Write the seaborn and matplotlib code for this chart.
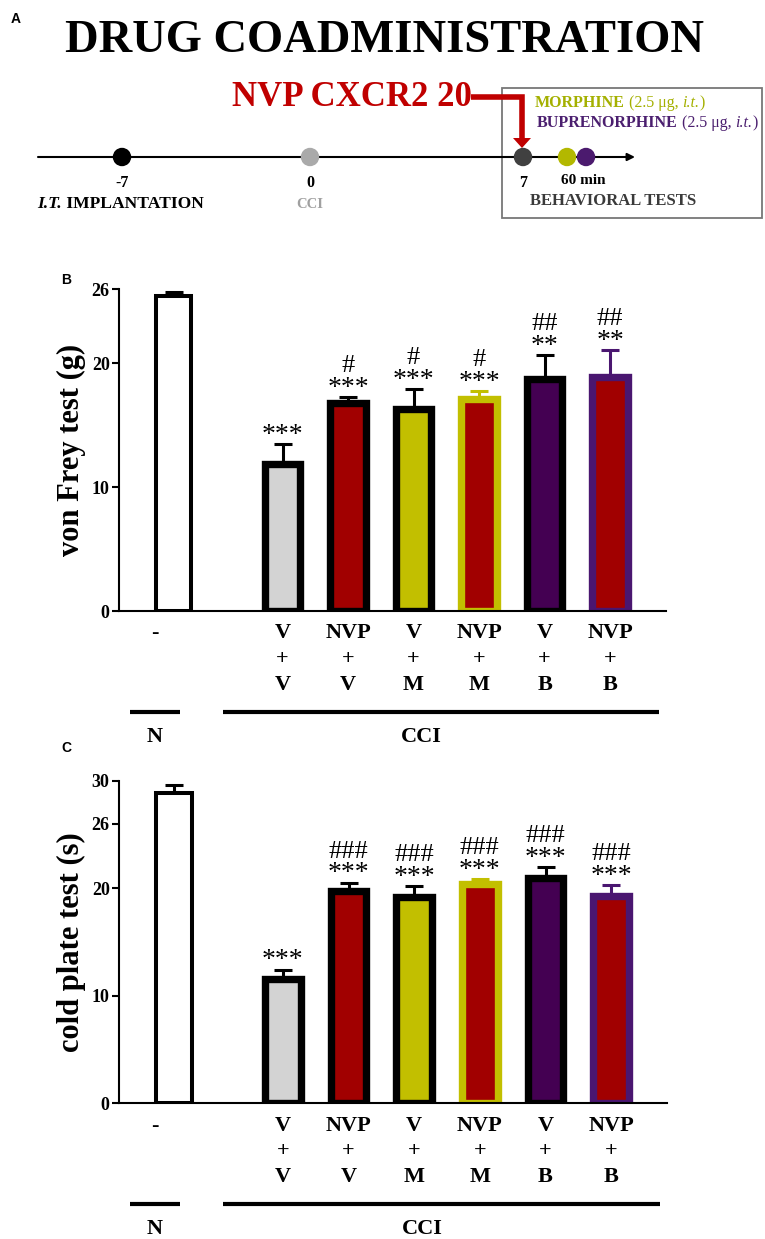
import numpy as np
import pandas as pd
import matplotlib.pyplot as plt
from matplotlib.patches import Circle, Rectangle
import seaborn as sns

# ---- data ----
groups = ["N", "V+V", "NVP+V", "V+M", "NVP+M", "V+B", "NVP+B"]
tick_labels = ["-", "V\n+\nV", "NVP\n+\nV", "V\n+\nM", "NVP\n+\nM", "V\n+\nB", "NVP\n+\nB"]

vonfrey_mean = [25.4, 11.9, 16.8, 16.3, 17.1, 18.7, 18.9]
vonfrey_sem = [0.35, 1.6, 0.5, 1.6, 0.65, 1.95, 2.2]
vonfrey_stars = ["", "***", "***", "***", "***", "**", "**"]
vonfrey_hash = ["", "", "#", "#", "#", "##", "##"]

cold_mean = [28.9, 11.6, 19.8, 19.2, 20.4, 21.0, 19.3]
cold_sem = [0.7, 0.85, 0.75, 1.05, 0.45, 1.0, 1.05]
cold_stars = ["", "***", "***", "***", "***", "***", "***"]
cold_hash = ["", "", "###", "###", "###", "###", "###"]

RED = "#a10000"
OLIVE = "#c2bf00"
PURPLE = "#440052"
PURPLE_EDGE = "#4a1670"
fill_colors = ["white", "#d3d3d3", RED, OLIVE, RED, PURPLE, RED]
edge_colors = ["black", "black", "black", "black", OLIVE, "black", PURPLE_EDGE]

timeline_days = ["-7", "0", "7"]

sns.set_theme(style="ticks")
plt.rcParams["font.family"] = ["Liberation Serif", "DejaVu Serif"]
for key in ["text.color", "axes.labelcolor", "xtick.color", "ytick.color", "axes.edgecolor"]:
    plt.rcParams[key] = "black"

W, H = 765, 1239
fig = plt.figure(figsize=(W / 100, H / 100), dpi=100)

# bar positions: N alone, then a gap before the CCI groups
xpos = np.r_[0.0, 1.66 + np.arange(len(groups) - 1)]
n_label_x = -0.29


def draw_panel(ax, mean, sem, stars, hashes, ylim, yticks, ylabel):
    df = pd.DataFrame({"group": groups, "pos": xpos, "value": mean})
    sns.barplot(data=df, x="pos", y="value", hue="group", native_scale=True,
                palette=dict(zip(groups, fill_colors)), saturation=1,
                dodge=False, width=0.54, errorbar=None, legend=False, ax=ax)
    bars = sorted([p for p in ax.patches if p.get_height() > 0], key=lambda p: p.get_x())
    for i, p in enumerate(bars):
        p.set_edgecolor(edge_colors[i])
        p.set_linewidth(2.9 if i == 0 else 5.3)
        p.set_zorder(2)

    for i in range(len(groups)):
        ax.errorbar(xpos[i], mean[i], yerr=[[0], [sem[i]]], fmt="none",
                    ecolor=edge_colors[i], elinewidth=2.2, capsize=6.5,
                    capthick=2.2, zorder=1)
        top = mean[i] + sem[i]
        if stars[i]:
            ax.annotate(stars[i], (xpos[i], top), xytext=(0, 1.5),
                        textcoords="offset points", ha="center", va="baseline",
                        fontsize=20)
        if hashes[i]:
            ax.annotate(hashes[i], (xpos[i], top), xytext=(0, 18),
                        textcoords="offset points", ha="center", va="baseline",
                        fontsize=19)

    ax.set_xlim(-0.83, 7.51)
    ax.set_ylim(*ylim)
    ax.set_yticks(yticks)
    ax.set_yticklabels([str(t) for t in yticks], fontweight="bold", fontsize=13)
    ax.set_xticks([n_label_x] + list(xpos[1:]))
    ax.set_xticklabels(tick_labels, fontweight="bold", fontsize=16)
    for lbl in ax.get_xticklabels():
        lbl.set_linespacing(1.38)
    ax.tick_params(axis="x", length=0, pad=9)
    ax.tick_params(axis="y", length=5, width=1.5, pad=2, color="black")
    ax.set_xlabel("")
    ax.set_ylabel(ylabel, fontsize=22, fontweight="bold", labelpad=4)
    sns.despine(ax=ax)
    for s in ["left", "bottom"]:
        ax.spines[s].set_linewidth(1.5)
    ax.set_facecolor("white")

    # group brackets below the labels
    tr = ax.get_xaxis_transform()
    ax.plot([-0.67, 0.10], [-0.313, -0.313], color="black", lw=3,
            transform=tr, clip_on=False, solid_capstyle="butt")
    ax.plot([0.75, 7.41], [-0.313, -0.313], color="black", lw=3,
            transform=tr, clip_on=False, solid_capstyle="butt")
    ax.text(n_label_x, -0.39, "N", transform=tr, ha="center", va="center",
            fontsize=16, fontweight="bold")
    ax.text(3.78, -0.39, "CCI", transform=tr, ha="center", va="center",
            fontsize=16, fontweight="bold")


def chain_text(ax, x, y, pieces, size, color):
    # writes text pieces one after another on the same baseline
    prev = None
    for s, kw in pieces:
        if prev is None:
            prev = ax.text(x, y, s, ha="left", va="baseline", fontsize=size,
                           color=color, **kw)
        else:
            prev = ax.annotate(s, xy=(1, 0), xycoords=prev, ha="left", va="bottom",
                               fontsize=size, color=color, **kw)
    return prev


axB = fig.add_axes([119.4 / W, 1 - 611 / H, (665.8 - 119.4) / W, 322 / H])
draw_panel(axB, vonfrey_mean, vonfrey_sem, vonfrey_stars, vonfrey_hash,
           (0, 26), [0, 10, 20, 26], "von Frey test (g)")

axC = fig.add_axes([119.4 / W, 1 - 1103.3 / H, (667 - 119.4) / W, 322.3 / H])
draw_panel(axC, cold_mean, cold_sem, cold_stars, cold_hash,
           (0, 30), [0, 10, 20, 26, 30], "cold plate test (s)")

for lab, (px, py) in {"A": (16, 19), "B": (66, 280), "C": (66, 748)}.items():
    fig.text(px / W, 1 - py / H, lab, family="Liberation Sans", fontweight="bold",
             fontsize=10, ha="center", va="center")

# ---- panel A: timeline scheme (pixel coordinates) ----
axA = fig.add_axes([0, 1 - 240 / H, 1, 240 / H])
axA.set_xlim(0, W)
axA.set_ylim(240, 0)
axA.axis("off")

axA.text(385, 41, "DRUG COADMINISTRATION", ha="center", va="center",
         fontsize=33.5, fontweight="bold")
axA.text(472, 98, "NVP CXCR2 20", ha="right", va="center", fontsize=25,
         fontweight="bold", color="#c00000")
axA.plot([471, 522, 522], [97, 97, 139], color="#c00000", lw=4,
         solid_joinstyle="miter", solid_capstyle="butt")
axA.fill([513, 531, 522], [138, 138, 148], color="#c00000", lw=0)

axA.add_patch(Rectangle((502, 88), 260, 130, fill=False, edgecolor="#777777", lw=1.3))
for x, y, drug, col in [(535, 107, "MORPHINE", "#a4b000"),
                        (537, 127, "BUPRENORPHINE", "#4b1f6f")]:
    chain_text(axA, x, y, [(drug, dict(fontweight="bold")),
                           (" (2.5 μg, ", {}),
                           ("i.t.", dict(fontstyle="italic")),
                           (")", {})], 11.5, col)

axA.annotate("", xy=(635, 157), xytext=(38, 157),
             arrowprops=dict(arrowstyle="-|>", color="black", lw=1.5,
                             mutation_scale=11, shrinkA=0, shrinkB=0))
dot_x = [122, 310, 523, 567, 586]
dot_c = ["black", "#aaaaaa", "#404040", "#b3b800", "#4b1a6e"]
for x, c in zip(dot_x, dot_c):
    axA.add_patch(Circle((x, 157), 8.5, color=c, zorder=3))

for x, d in zip(dot_x[:3], timeline_days):
    axA.text(x, 183, d, ha="center", va="center", fontsize=11.5, fontweight="bold")
axA.text(583, 180, "60 min", ha="center", va="center", fontsize=11, fontweight="bold")
chain_text(axA, 37, 208.5, [("I.T.", dict(fontweight="bold", fontstyle="italic")),
                            (" IMPLANTATION", dict(fontweight="bold"))], 12.6, "black")
axA.text(310, 205, "CCI", ha="center", va="center", fontsize=10.5,
         fontweight="bold", color="#a0a0a0")
axA.text(613, 201, "BEHAVIORAL TESTS", ha="center", va="center", fontsize=12,
         fontweight="bold", color="#3a3a3a")

fig.savefig("out.png", dpi=100, facecolor="white")
